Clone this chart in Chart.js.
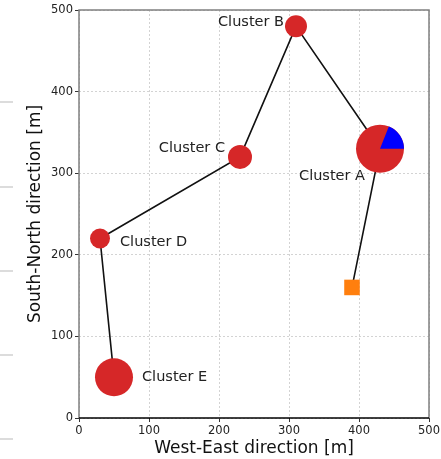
<!DOCTYPE html>
<html>
<head>
<meta charset="utf-8">
<script src="https://cdn.jsdelivr.net/npm/chart.js@4/dist/chart.umd.min.js"></script>
<style>
	html, body { margin: 0; padding: 0; background: #fff; }
	#wrap { width: 441px; height: 459px; }
</style>
</head>
<body>
<div id="wrap"><canvas id="chart"></canvas></div>
<script>
'use strict'

// cluster data
const clusterNames = ['Cluster A', 'Cluster B', 'Cluster C', 'Cluster D', 'Cluster E']
const clusterX = [430, 310, 230, 30, 50]
const clusterY = [330, 480, 320, 220, 50]
const clusterSize = [24, 11, 12, 10, 19]
const clusterShare = [0.19, 0, 0, 0, 0]

// source point and route
const sourceX = [390]
const sourceY = [160]
const routeX = [390, 430, 310, 230, 30, 50]
const routeY = [160, 330, 480, 320, 220, 50]

const axisTicks = [0, 100, 200, 300, 400, 500]

const labelOffsets = [
	{ dx: -15, dy: 28, align: 'right' },
	{ dx: -12, dy: -4, align: 'right' },
	{ dx: -15, dy: -9, align: 'right' },
	{ dx: 20, dy: 4, align: 'left' },
	{ dx: 28, dy: 0, align: 'left' },
]

const decoPlugin = {
	id: 'deco',
	beforeDraw(chart) {
		const ctx = chart.ctx
		ctx.save()
		ctx.strokeStyle = '#dcdcdc'
		ctx.lineWidth = 2
		;[102, 187, 271, 355, 439].forEach(y => {
			ctx.beginPath()
			ctx.moveTo(0, y)
			ctx.lineTo(13, y)
			ctx.stroke()
		})
		ctx.restore()
	},
	afterDatasetsDraw(chart) {
		const ctx = chart.ctx
		const xs = chart.scales.x
		const ys = chart.scales.y
		ctx.save()
		// pie slices
		clusterShare.forEach((share, i) => {
			if (!share) return
			const cx = xs.getPixelForValue(clusterX[i])
			const cy = ys.getPixelForValue(clusterY[i])
			ctx.fillStyle = '#0000ff'
			ctx.beginPath()
			ctx.moveTo(cx, cy)
			ctx.arc(cx, cy, clusterSize[i], 0, -share * Math.PI * 2, true)
			ctx.closePath()
			ctx.fill()
		})
		// labels
		ctx.fillStyle = '#222'
		ctx.font = '14.5px "DejaVu Sans"'
		ctx.textBaseline = 'middle'
		clusterNames.forEach((name, i) => {
			const o = labelOffsets[i]
			ctx.textAlign = o.align
			ctx.fillText(name, xs.getPixelForValue(clusterX[i]) + o.dx, ys.getPixelForValue(clusterY[i]) + o.dy)
		})
		// frame
		const a = chart.chartArea
		ctx.lineWidth = 1.5
		ctx.strokeStyle = '#808080'
		ctx.beginPath()
		ctx.moveTo(a.left, a.bottom)
		ctx.lineTo(a.left, a.top)
		ctx.lineTo(a.right, a.top)
		ctx.lineTo(a.right, a.bottom)
		ctx.stroke()
		ctx.strokeStyle = '#000'
		ctx.beginPath()
		ctx.moveTo(a.left, a.bottom)
		ctx.lineTo(a.right, a.bottom)
		ctx.stroke()
		ctx.restore()
	},
}

const axisFont = { family: 'DejaVu Sans', size: 11.5 }
const titleFont = { family: 'DejaVu Sans', size: 17 }

function scaleOpts(title, fitKey, fitVal, titlePad) {
	return {
		type: 'linear',
		min: 0,
		max: 500,
		afterBuildTicks: scale => {
			scale.ticks = axisTicks.map(v => ({ value: v }))
		},
		afterFit: scale => {
			scale[fitKey] = fitVal
			scale.paddingTop = 0
			scale.paddingBottom = 0
			scale.paddingLeft = 0
			scale.paddingRight = 0
		},
		ticks: { color: '#222', font: axisFont, padding: 2 },
		grid: {
			color: '#c8c8c8',
			tickColor: '#000',
			tickLength: 4,
			lineWidth: 0.8,
			tickBorderDash: [],
		},
		border: { display: false, dash: [2, 2] },
		title: { display: true, text: title, color: '#111', font: titleFont, padding: titlePad },
	}
}

new Chart(document.getElementById('chart'), {
	type: 'bubble',
	data: {
		datasets: [
			{
				type: 'scatter',
				data: routeX.map((x, i) => ({ x, y: routeY[i] })),
				showLine: true,
				borderColor: '#111',
				borderWidth: 1.6,
				pointRadius: 0,
				order: 3,
			},
			{
				type: 'bubble',
				data: clusterX.map((x, i) => ({ x, y: clusterY[i], r: clusterSize[i] })),
				backgroundColor: '#d62728',
				borderWidth: 0,
				order: 2,
			},
			{
				type: 'scatter',
				data: sourceX.map((x, i) => ({ x, y: sourceY[i] })),
				pointStyle: 'rect',
				pointRadius: 11,
				backgroundColor: '#ff7f0e',
				borderWidth: 0,
				order: 1,
			},
		],
	},
	options: {
		responsive: true,
		maintainAspectRatio: false,
		animation: false,
		layout: { autoPadding: false, padding: { top: 10, right: 12, left: 0, bottom: 0 } },
		plugins: { legend: { display: false }, tooltip: { enabled: false } },
		scales: {
			x: scaleOpts('West-East direction [m]', 'height', 41, { top: 2, bottom: 0 }),
			y: scaleOpts('South-North direction [m]', 'width', 79, { top: 25, bottom: 2 }),
		},
	},
	plugins: [decoPlugin],
})
</script>
</body>
</html>
